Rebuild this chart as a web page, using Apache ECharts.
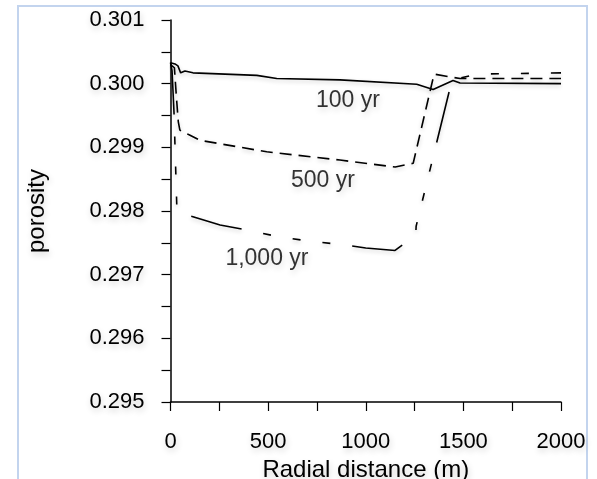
<!DOCTYPE html>
<html>
<head>
<meta charset="utf-8">
<script src="https://cdn.jsdelivr.net/npm/echarts@6/dist/echarts.min.js"></script>
<style>
  html, body { margin: 0; padding: 0; background: #fff; }
  #chart { width: 597px; height: 479px; }
</style>
</head>
<body>
<div id="chart"></div>
<script>
// radial distance (m) and porosity for each time
var x100 = [0, 23, 38, 52, 74, 115, 442, 544, 868, 1261, 1345, 1447, 1483, 2000];
var y100 = [0.30033, 0.30031, 0.30028, 0.30017, 0.30020, 0.30017, 0.30013, 0.30008, 0.30006, 0.29999, 0.29991, 0.30005, 0.30001, 0.30000];

var x500 = [0, 20, 30, 40, 48, 100, 151, 493, 868, 1151, 1243, 1350, 1483, 2000];
var y500 = [0.30030, 0.30025, 0.29980, 0.29940, 0.29927, 0.29919, 0.29911, 0.29893, 0.29880, 0.29869, 0.29875, 0.30015, 0.30008, 0.30008];

var x1000 = [0, 8, 18, 33, 60, 115, 254, 397, 545, 704, 883, 1000, 1150, 1256, 1258, 1442, 1575, 2000];
var y1000 = [0.30033, 0.30020, 0.29954, 0.29800, 0.29795, 0.29791, 0.29778, 0.29770, 0.29760, 0.29753, 0.29747, 0.29742, 0.29738, 0.29762, 0.29776, 0.30006, 0.30015, 0.30017];

var labelText = ['100 yr', '500 yr', '1,000 yr'];
var labelX = [909, 781, 494];
var labelY = [0.29974, 0.29847, 0.29725];

function pairs(xs, ys) {
    return xs.map(function (x, i) { return [x, ys[i]]; });
}

var shadow = {
    textShadowColor: 'rgba(0,0,0,0.2)',
    textShadowBlur: 6,
    textShadowOffsetX: 1,
    textShadowOffsetY: 3
};

var lineShadow = {
    shadowColor: 'rgba(0,0,0,0.2)',
    shadowBlur: 4,
    shadowOffsetY: 2
};

var myChart = echarts.init(document.getElementById('chart'));

myChart.setOption({
    animation: false,
    backgroundColor: '#fff',
    textStyle: { fontFamily: 'Liberation Sans, Arial, sans-serif' },
    graphic: [{
        type: 'rect',
        shape: { x: 18, y: 6, width: 569, height: 490 },
        style: { fill: 'none', stroke: '#c3d4ee', lineWidth: 2 },
        z: -1
    }],
    grid: { left: 170.5, right: 36, top: 20, bottom: 77, containLabel: false, outerBoundsMode: 'none' },
    xAxis: {
        type: 'value',
        min: 0,
        max: 2000,
        interval: 500,
        name: 'Radial distance (m)',
        nameLocation: 'middle',
        nameGap: 53,
        nameTextStyle: Object.assign({ fontSize: 24, color: '#000' }, shadow),
        axisLine: { show: true, lineStyle: { color: '#000', width: 1.5 } },
        axisTick: { show: true, length: 9, lineStyle: { color: '#000', width: 1.2 } },
        minorTick: { show: true, splitNumber: 2, length: 9, lineStyle: { color: '#000', width: 1.2 } },
        splitLine: { show: false },
        axisLabel: Object.assign({
            fontSize: 22, color: '#000', margin: 29,
            formatter: function (v) { return String(v); }
        }, shadow)
    },
    yAxis: {
        type: 'value',
        min: 0.295,
        max: 0.301,
        interval: 0.001,
        name: 'porosity',
        nameLocation: 'middle',
        nameGap: 121,
        nameTextStyle: Object.assign({ fontSize: 24, color: '#000' }, shadow),
        axisLine: { show: true, lineStyle: { color: '#000', width: 1.5 } },
        axisTick: { show: true, length: 9, lineStyle: { color: '#000', width: 1.2 } },
        minorTick: { show: true, splitNumber: 2, length: 9, lineStyle: { color: '#000', width: 1.2 } },
        splitLine: { show: false },
        axisLabel: Object.assign({
            fontSize: 22, color: '#000', margin: 26,
            formatter: function (v) { return v.toFixed(3); }
        }, shadow)
    },
    series: [
        {
            name: '100 yr',
            type: 'line',
            data: pairs(x100, y100),
            symbol: 'none',
            lineStyle: Object.assign({ color: '#000', width: 1.6 }, lineShadow)
        },
        {
            name: '500 yr',
            type: 'line',
            data: pairs(x500, y500),
            symbol: 'none',
            lineStyle: Object.assign({ color: '#000', width: 1.6, type: [12, 7] }, lineShadow)
        },
        {
            name: '1,000 yr',
            type: 'line',
            data: pairs(x1000, y1000),
            symbol: 'none',
            lineStyle: Object.assign({ color: '#000', width: 1.6, type: [52, 22, 8, 22, 8, 22, 8, 22] }, lineShadow)
        },
        {
            name: 'labels',
            type: 'scatter',
            symbolSize: 0,
            data: labelText.map(function (t, i) { return { value: [labelX[i], labelY[i]], name: t }; }),
            label: Object.assign({
                show: true,
                position: 'inside',
                fontSize: 23,
                color: '#000',
                formatter: function (p) { return p.name; }
            }, shadow),
            silent: true
        }
    ]
});
</script>
</body>
</html>
